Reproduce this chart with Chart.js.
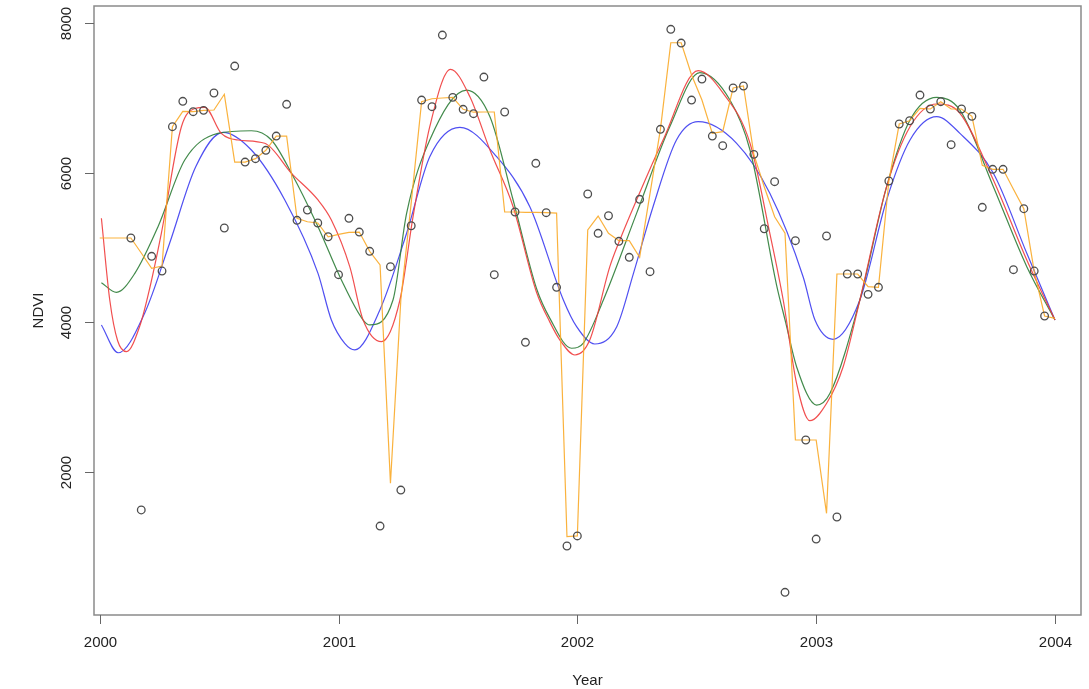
<!DOCTYPE html>
<html>
<head>
<meta charset="utf-8">
<title>NDVI</title>
<script src="https://cdn.jsdelivr.net/npm/chart.js@4.4.1/dist/chart.umd.min.js"></script>
<style>
html,body{margin:0;padding:0;background:#fff;}
</style>
</head>
<body>
<canvas id="ndviChart" width="1089" height="689"></canvas>
<script>
// 16-day composites, 23 per year; MODIS starts at composite 4 of 2000
const years=[2000,2001,2002,2003];
const obs2000=[null,null,null,5126,1485,4881,4684,6616,6956,6817,6835,7067,5260,7428,6143,6188,6300,6491,6916,5363,5501,5327,5143];
const obs2001=[4635,5390,5206,4948,1270,4742,1752,5290,6973,6884,7843,7009,6849,6790,7281,4635,6813,5474,3730,6126,5465,4466,1003];
const obs2002=[1137,5715,5189,5424,5082,4868,5644,4675,6581,7920,7736,6973,7254,6491,6362,7134,7161,6246,5250,5880,383,5090,2422];
const obs2003=[1096,5153,1391,4644,4644,4372,4466,5889,6652,6696,7040,6853,6951,6375,6853,6755,5537,6046,6046,4702,5518,4684,4082];

// filtered series (orange), same dates, plus the value at 2004.0
const filt2000=[5126,5126,5126,5126,4925,4720,4750,6616,6820,6817,6835,6840,7050,6143,6143,6188,6300,6491,6491,5390,5344,5327,5143];
const filt2001=[5175,5202,5206,4948,4765,1842,4300,5600,6950,6990,7000,7009,6849,6810,6813,6813,5474,5474,5470,5468,5465,5460,1127];
const filt2002=[1137,5233,5420,5189,5090,5090,4868,5724,6581,7740,7740,7308,6973,6527,6550,7134,7161,6246,5813,5411,5189,2422,2422];
const filt2003=[2422,1440,4644,4644,4644,4474,4466,5889,6652,6696,6860,6853,6951,6853,6853,6755,6100,6046,6046,5780,5518,4684,4082];
const filtEnd=4051;

// fitted curves
const blueX=[2000.007,2000.077,2000.188,2000.293,2000.402,2000.516,2000.635,2000.775,2000.914,2000.970,2001.026,2001.068,2001.173,2001.285,2001.382,2001.508,2001.662,2001.801,2001.941,2001.997,2002.073,2002.165,2002.235,2002.317,2002.415,2002.506,2002.667,2002.806,2002.946,2002.995,2003.071,2003.183,2003.295,2003.393,2003.505,2003.602,2003.742,2003.882,2004.000];
const blueY=[3962,3590,4120,5060,6080,6541,6304,5635,4653,4028,3716,3628,4162,5189,6215,6608,6215,5545,4300,3939,3707,3939,4653,5545,6438,6683,6394,5724,4600,4028,3770,4296,5635,6438,6750,6527,5992,4921,4028];

const redX=[2000.007,2000.042,2000.075,2000.112,2000.168,2000.209,2000.258,2000.342,2000.398,2000.440,2000.509,2000.579,2000.691,2000.803,2000.914,2000.970,2001.047,2001.103,2001.180,2001.257,2001.312,2001.382,2001.469,2001.550,2001.634,2001.731,2001.829,2001.885,2001.927,2001.990,2002.052,2002.136,2002.178,2002.248,2002.359,2002.506,2002.611,2002.723,2002.806,2002.862,2002.918,2002.974,2003.044,2003.113,2003.183,2003.295,2003.393,2003.505,2003.602,2003.742,2003.882,2004.000];
const redY=[5390,4296,3750,3604,3950,4450,5189,6616,6860,6876,6527,6438,6394,5992,5635,5367,4742,4028,3738,4296,5411,6616,7384,7018,6304,5545,4400,4000,3760,3560,3760,4742,5100,5635,6438,7366,7063,6394,5189,4296,3181,2680,2913,3403,4296,5813,6616,6920,6795,5902,4831,4028];

const greenX=[2000.007,2000.070,2000.147,2000.244,2000.356,2000.495,2000.635,2000.719,2000.803,2000.914,2001.012,2001.103,2001.131,2001.228,2001.285,2001.382,2001.536,2001.634,2001.731,2001.829,2001.885,2001.976,2002.025,2002.109,2002.248,2002.387,2002.513,2002.639,2002.723,2002.834,2002.872,2002.918,2003.002,2003.058,2003.183,2003.295,2003.393,2003.505,2003.602,2003.742,2003.882,2004.000];
const greenY=[4528,4399,4653,5277,6170,6527,6562,6438,5992,5277,4564,4028,3962,4296,5456,6438,7107,6750,5635,4450,4050,3650,3720,4296,5456,6616,7340,6973,6304,4500,4000,3403,2890,3047,4296,5813,6705,7009,6839,5813,4742,4028];

const yTickValues=[2000,4000,6000,8000];
const xTickValues=[2000,2001,2002,2003,2004];

const obsRows=[obs2000,obs2001,obs2002,obs2003];
const filtRows=[filt2000,filt2001,filt2002,filt2003];

const obsPoints=[];
const filtPoints=[];
years.forEach((yr,i)=> {
    obsRows[i].forEach((v,k)=> {
        if (v!==null) obsPoints.push({x: yr + k/23, y: v});
    });
    filtRows[i].forEach((v,k)=> {
        filtPoints.push({x: yr + k/23, y: v});
    });
});
filtPoints.push({x: 2004, y: filtEnd});

function toXY(xs, ys) {
    return xs.map((x,i)=> ({x: x, y: ys[i]}));
}

const textColor='#222';
const labelFont='15px "Liberation Sans", Arial, sans-serif';

// R-style box, ticks and labels
const rAxes={
    id: 'rAxes',
    afterDraw(chart) {
        const ctx=chart.ctx;
        const area=chart.chartArea;
        const xs=chart.scales.x;
        const ys=chart.scales.y;
        ctx.save();
        ctx.strokeStyle='#8a8a8a';
        ctx.lineWidth=1.5;
        ctx.strokeRect(area.left, area.top, area.right-area.left, area.bottom-area.top);

        ctx.strokeStyle='#666';
        ctx.lineWidth=1;
        ctx.fillStyle=textColor;
        ctx.font=labelFont;
        ctx.textAlign='center';
        ctx.textBaseline='middle';
        xTickValues.forEach(v=> {
            const px=Math.round(xs.getPixelForValue(v))+0.5;
            ctx.beginPath();
            ctx.moveTo(px, area.bottom);
            ctx.lineTo(px, area.bottom+9);
            ctx.stroke();
            ctx.fillText(String(v), px, 643);
        });
        yTickValues.forEach(v=> {
            const py=Math.round(ys.getPixelForValue(v))+0.5;
            ctx.beginPath();
            ctx.moveTo(area.left, py);
            ctx.lineTo(area.left-9, py);
            ctx.stroke();
            ctx.save();
            ctx.translate(67, py);
            ctx.rotate(-Math.PI/2);
            ctx.fillText(String(v), 0, 0);
            ctx.restore();
        });
        ctx.fillText('Year', (area.left+area.right)/2, 681);
        ctx.save();
        ctx.translate(39, (area.top+area.bottom)/2);
        ctx.rotate(-Math.PI/2);
        ctx.fillText('NDVI', 0, 0);
        ctx.restore();
        ctx.restore();
    }
};

const lineStyle={showLine: true, pointRadius: 0, borderWidth: 1.2, fill: false};

new Chart(document.getElementById('ndviChart'), {
    type: 'scatter',
    data: {
        datasets: [
            {
                label: 'NDVI',
                data: obsPoints,
                pointRadius: 3.8,
                pointBorderWidth: 1.3,
                borderColor: '#4d4d4d',
                backgroundColor: 'rgba(0,0,0,0)',
                showLine: false
            },
            Object.assign({label: 'filtered', data: filtPoints, borderColor: 'rgba(250,170,40,0.9)', tension: 0}, lineStyle),
            Object.assign({label: 'fit red', data: toXY(redX, redY), borderColor: 'rgba(240,60,60,0.9)', cubicInterpolationMode: 'monotone'}, lineStyle),
            Object.assign({label: 'fit green', data: toXY(greenX, greenY), borderColor: 'rgba(45,125,55,0.9)', cubicInterpolationMode: 'monotone'}, lineStyle),
            Object.assign({label: 'fit blue', data: toXY(blueX, blueY), borderColor: 'rgba(60,60,240,0.9)', cubicInterpolationMode: 'monotone'}, lineStyle)
        ]
    },
    options: {
        responsive: false,
        animation: false,
        devicePixelRatio: 1,
        layout: {padding: {left: 94, right: 8, top: 6, bottom: 74}},
        plugins: {legend: {display: false}, tooltip: {enabled: false}},
        scales: {
            x: {type: 'linear', display: false, min: 1999.976, max: 2004.109},
            y: {type: 'linear', display: false, min: 79, max: 8232}
        }
    },
    plugins: [rAxes]
});
</script>
</body>
</html>
